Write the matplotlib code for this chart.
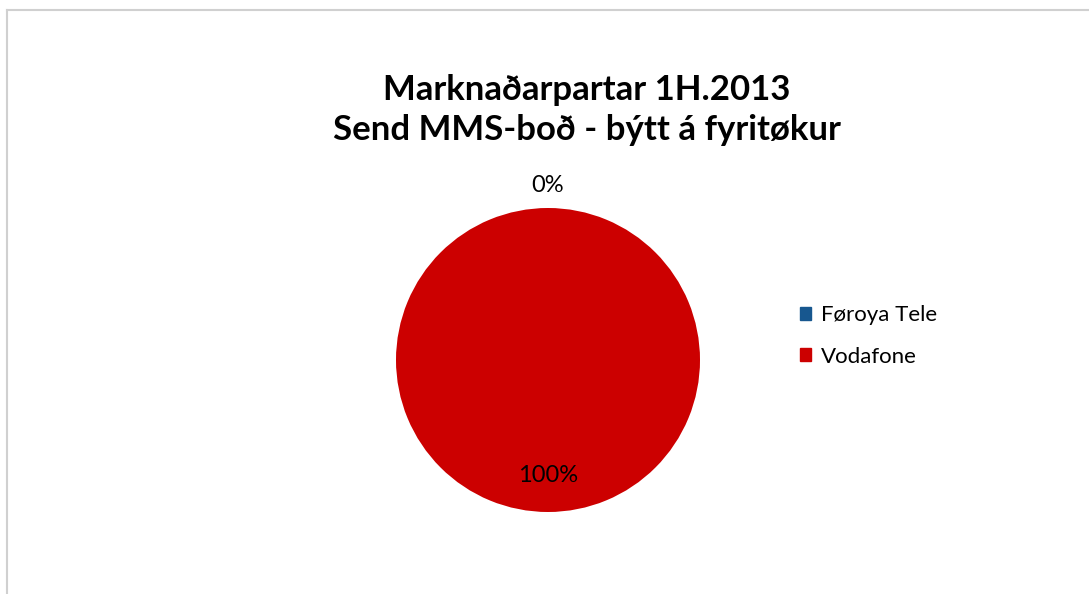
import numpy as np
import matplotlib.pyplot as plt
from matplotlib.lines import Line2D

companies = ["Føroya Tele", "Vodafone"]
shares = [0, 100]
colors = ["#17578f", "#cc0000"]
title = "Marknaðarpartar 1H.2013\nSend MMS-boð - býtt á fyritøkur"

plt.rcParams["font.family"] = ["Lato", "DejaVu Sans"]

fig = plt.figure(figsize=(10.89, 5.94), dpi=100)

# light grey chart frame (top and left edges visible)
fig.add_artist(Line2D([7 / 1089, 7 / 1089], [0, 1 - 10 / 594], color="#d0d0d0", lw=1.5))
fig.add_artist(Line2D([7 / 1089, 1], [1 - 10 / 594, 1 - 10 / 594], color="#d0d0d0", lw=1.5))

# pie centred at (548, 360), radius ~152 px
r = 152
cx, cy = 548, 360
ax = fig.add_axes([(cx - r) / 1089, 1 - (cy + r) / 594, 2 * r / 1089, 2 * r / 594])
wedges, _ = ax.pie(shares, colors=colors, startangle=90, counterclock=False,
                   wedgeprops=dict(linewidth=0))
ax.set_aspect("equal")
ax.set_xlim(-1, 1)
ax.set_ylim(-1, 1)

total = sum(shares)
for w, v in zip(wedges, shares):
    mid = np.deg2rad((w.theta1 + w.theta2) / 2)
    d = 1.15 if v == 0 else 0.76
    ax.text(d * np.cos(mid), d * np.sin(mid), f"{v / total:.0%}",
            ha="center", va="center", fontsize=17, color="black")

fig.text(587 / 1089, 1 - 110 / 594, title, ha="center", va="center",
         fontsize=25, fontweight="bold", linespacing=1.3)

handles = [plt.Rectangle((0, 0), 1, 1, color=c) for c in colors]
fig.legend(handles, companies, loc="center left", bbox_to_anchor=(780 / 1089, 1 - 336 / 594),
           frameon=False, fontsize=16, handlelength=0.5, handleheight=0.55,
           handletextpad=0.45, labelspacing=0.95)

fig.savefig("out.png", dpi=100)
